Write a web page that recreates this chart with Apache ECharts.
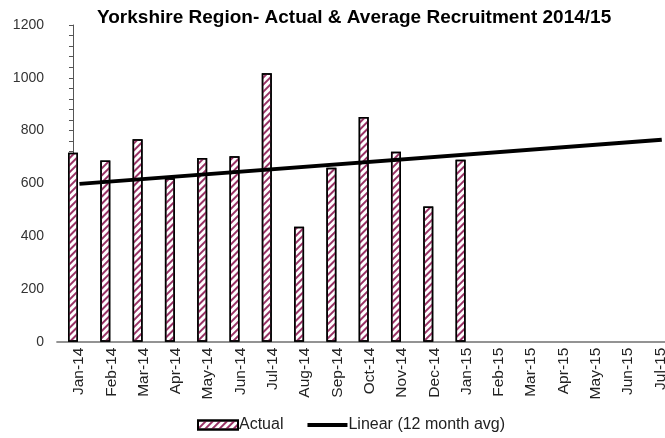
<!DOCTYPE html>
<html>
<head>
<meta charset="utf-8">
<script src="https://cdn.jsdelivr.net/npm/echarts@6/dist/echarts.min.js"></script>
<style>
html,body{margin:0;padding:0;background:#fff;}
#chart{width:665px;height:438px;}
</style>
</head>
<body>
<div id="chart"></div>
<script>
const titleText = 'Yorkshire Region- Actual & Average Recruitment 2014/15';
const categories = ['Jan-14','Feb-14','Mar-14','Apr-14','May-14','Jun-14','Jul-14','Aug-14','Sep-14','Oct-14','Nov-14','Dec-14','Jan-15','Feb-15','Mar-15','Apr-15','May-15','Jun-15','Jul-15'];
const actual = [716, 687, 767, 619, 696, 703, 1017, 436, 659, 851, 720, 512, 689];
const trendX = [0.2, 18.23];
const trendY = [598, 765];
const yMin = 0, yMax = 1200, yStep = 200;

const FONT = "'Liberation Sans', Arial, sans-serif";
const chart = echarts.init(document.getElementById('chart'), null, {renderer: 'canvas'});
chart.setOption({
  animation: false,
  backgroundColor: '#ffffff',
  title: {
    text: titleText,
    left: 92, top: 3,
    textStyle: {fontFamily: FONT, fontSize: 19, fontWeight: 'bold', color: '#000'}
  },
  legend: {
    left: 192, top: 412,
    itemWidth: 40, itemHeight: 9, itemGap: 24,
    textStyle: {fontFamily: FONT, fontSize: 16, color: '#222', padding: [0,0,0,-4]},
    data: [
      {name: 'Actual', icon: 'rect'},
      {name: 'Linear (12 month avg)', icon: 'path://M0,0 L40,0 L40,4 L0,4 Z', itemStyle: {color: '#000', borderWidth: 0}}
    ]
  },
  grid: {left: 56.85, right: -5.5, top: 25, bottom: 96.3, containLabel: false, outerBoundsMode: 'none'},
  xAxis: [{
    type: 'category',
    data: categories,
    boundaryGap: true,
    axisLine: {lineStyle: {color: '#707070', width: 1.5}},
    axisTick: {show: false},
    axisLabel: {rotate: 90, margin: 6, interval: 0, fontFamily: FONT, fontSize: 15.5, lineHeight: 12, verticalAlign: 'top', color: '#222'}
  }, {
    type: 'value',
    min: -0.5, max: 18.5,
    show: false
  }],
  yAxis: {
    type: 'value',
    min: yMin, max: yMax, interval: yStep,
    offset: -5.15,
    axisLine: {show: true, lineStyle: {color: '#555', width: 1}},
    axisTick: {show: true, inside: false, length: 4, lineStyle: {color: '#555'}},
    minorTick: {show: true, splitNumber: 5, length: 4, lineStyle: {color: '#555'}},
    splitLine: {show: false},
    axisLabel: {margin: 18, fontFamily: FONT, fontSize: 14, color: '#333', formatter: v => String(v)}
  },
  series: [{
    name: 'Actual',
    type: 'bar',
    xAxisIndex: 0,
    data: actual,
    barWidth: 10,
    itemStyle: {
      color: '#ffffff',
      borderColor: '#000',
      borderWidth: 1.5,
      decal: {
        symbol: 'rect',
        symbolSize: 1,
        color: '#993366',
        dashArrayX: [1, 0],
        dashArrayY: [2, 2.5],
        rotation: -Math.PI / 4
      }
    }
  }, {
    name: 'Linear (12 month avg)',
    type: 'line',
    xAxisIndex: 1,
    data: trendX.map((x, i) => [x, trendY[i]]),
    symbol: 'none',
    lineStyle: {color: '#000', width: 4},
    itemStyle: {color: '#000'},
    z: 5
  }]
});
</script>
</body>
</html>
